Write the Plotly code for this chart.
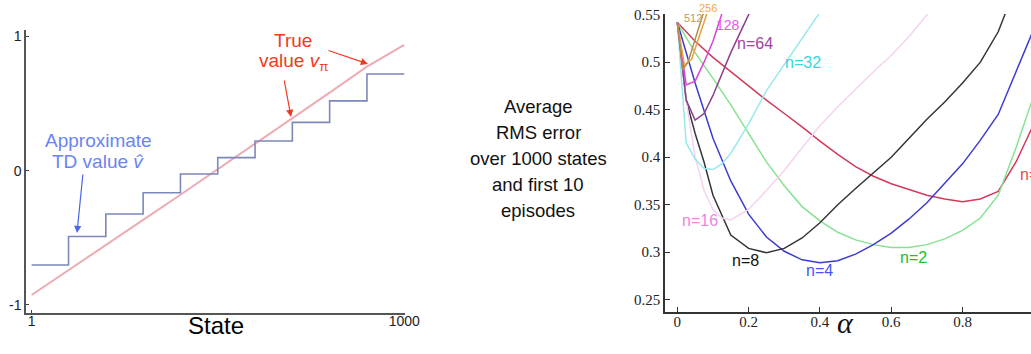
"""State aggregation on the 1000-state random walk, and n-step TD error vs alpha."""

import plotly.graph_objects as go

W, H = 1031, 354

# ---- left panel data ----
states = [1, 100, 200, 300, 400, 500, 600, 700, 800, 900, 1000]
true_value = [-0.926, -0.742, -0.559, -0.367, -0.179, 0.010, 0.199, 0.388, 0.581, 0.775, 0.937]
group_starts = [1, 100, 200, 300, 400, 500, 600, 700, 800, 900, 1000]
td_levels = [-0.703, -0.49, -0.323, -0.164, -0.025, 0.097, 0.221, 0.36, 0.52, 0.72, 0.72]

# ---- right panel data (average RMS error vs alpha, per n) ----
alpha_1 = [0, 0.05, 0.1, 0.15, 0.2, 0.25, 0.3, 0.35, 0.4, 0.45, 0.5, 0.55, 0.6, 0.65, 0.7, 0.75, 0.8, 0.85, 0.9, 0.95, 1.0]
err_1 = [0.542, 0.522, 0.505, 0.49, 0.475, 0.46, 0.446, 0.432, 0.417, 0.403, 0.39, 0.38, 0.372, 0.366, 0.36, 0.356, 0.353, 0.356, 0.364, 0.395, 0.435]
alpha_2 = alpha_1
err_2 = [0.542, 0.51, 0.483, 0.455, 0.425, 0.395, 0.37, 0.348, 0.333, 0.321, 0.313, 0.308, 0.305, 0.305, 0.308, 0.314, 0.323, 0.336, 0.36, 0.41, 0.465]
alpha_4 = alpha_1
err_4 = [0.542, 0.478, 0.42, 0.375, 0.34, 0.316, 0.301, 0.292, 0.289, 0.291, 0.298, 0.308, 0.32, 0.335, 0.352, 0.372, 0.393, 0.418, 0.445, 0.49, 0.535]
alpha_8 = [0, 0.025, 0.05, 0.075, 0.1, 0.15, 0.2, 0.25, 0.3, 0.35, 0.4, 0.45, 0.5, 0.55, 0.6, 0.65, 0.7, 0.75, 0.8, 0.85, 0.9, 0.95]
err_8 = [0.542, 0.46, 0.425, 0.395, 0.36, 0.318, 0.304, 0.2995, 0.304, 0.315, 0.331, 0.35, 0.367, 0.384, 0.40, 0.42, 0.44, 0.458, 0.478, 0.50, 0.532, 0.58]
alpha_16 = [0, 0.025, 0.05, 0.075, 0.1, 0.125, 0.15, 0.2, 0.25, 0.3, 0.35, 0.4, 0.45, 0.5, 0.55, 0.6, 0.65, 0.7, 0.75]
err_16 = [0.542, 0.46, 0.40, 0.365, 0.345, 0.336, 0.334, 0.345, 0.365, 0.386, 0.41, 0.433, 0.453, 0.472, 0.49, 0.507, 0.527, 0.55, 0.575]
alpha_32 = [0, 0.025, 0.05, 0.075, 0.1, 0.125, 0.15, 0.2, 0.25, 0.3, 0.35, 0.4, 0.45]
err_32 = [0.542, 0.415, 0.398, 0.388, 0.387, 0.393, 0.404, 0.435, 0.47, 0.497, 0.525, 0.552, 0.58]
alpha_64 = [0, 0.025, 0.05, 0.075, 0.1, 0.125, 0.15, 0.175, 0.2, 0.225]
err_64 = [0.542, 0.46, 0.439, 0.446, 0.465, 0.488, 0.51, 0.53, 0.551, 0.57]
alpha_128 = [0, 0.025, 0.05, 0.075, 0.1, 0.125, 0.15]
err_128 = [0.542, 0.476, 0.48, 0.50, 0.522, 0.552, 0.58]
alpha_256 = [0, 0.02, 0.04, 0.06, 0.08, 0.1]
err_256 = [0.542, 0.497, 0.503, 0.525, 0.548, 0.57]
alpha_512 = [0, 0.015, 0.03, 0.05, 0.07, 0.09]
err_512 = [0.542, 0.492, 0.50, 0.525, 0.548, 0.57]

n_labels = ["n=1", "n=2", "n=4", "n=8", "n=16", "n=32", "n=64", "128", "256", "512"]
curve_colors = ["#D23A5C", "#86E290", "#3C3CD2", "#353535", "#F5D2F0",
                "#96E8EE", "#8E3E8E", "#D844D8", "#E8A040", "#B48A50"]
label_colors = ["#F04848", "#22C022", "#4455F0", "#111111", "#E888E0",
                "#30D8E0", "#A044A0", "#F050F0", "#F5A848", "#C09860"]

SANS = "Liberation Sans, Arial, sans-serif"
SERIF = "Liberation Serif, Times New Roman, serif"


def px_x(px):
    return px / W


def px_y(py):
    return 1 - py / H


fig = go.Figure()

# left panel
fig.add_trace(go.Scatter(x=states, y=true_value, mode="lines",
                         line=dict(color="#ECACB4", width=2.0), xaxis="x", yaxis="y",
                         showlegend=False, hoverinfo="skip"))
fig.add_trace(go.Scatter(x=group_starts, y=td_levels, mode="lines", line_shape="hv",
                         line=dict(color="#7C88B8", width=1.6), xaxis="x", yaxis="y",
                         showlegend=False, hoverinfo="skip"))

# right panel
alphas = [alpha_1, alpha_2, alpha_4, alpha_8, alpha_16, alpha_32, alpha_64, alpha_128, alpha_256, alpha_512]
errors = [err_1, err_2, err_4, err_8, err_16, err_32, err_64, err_128, err_256, err_512]
for a, e, c in zip(alphas, errors, curve_colors):
    fig.add_trace(go.Scatter(x=a, y=e, mode="lines", line=dict(color=c, width=1.5),
                             xaxis="x2", yaxis="y2", showlegend=False, hoverinfo="skip"))

common = dict(automargin=False, showgrid=False, zeroline=False, showline=True)
fig.update_layout(
    width=W, height=H,
    margin=dict(l=0, r=0, t=0, b=0, autoexpand=False),
    paper_bgcolor="white", plot_bgcolor="white",
    xaxis=dict(domain=[px_x(26), px_x(405)], range=[-14, 1002],
               tickvals=[1, 1000], ticktext=["1", "1000"], ticks="inside", ticklen=3,
               linecolor="#555", linewidth=1.5, ticklabelstandoff=-5,
               tickfont=dict(family=SANS, size=14, color="#222"), **common),
    yaxis=dict(domain=[px_y(312.7), px_y(30)], range=[-1.058, 1.048],
               tickvals=[-1, 0, 1], ticktext=["-1", "0", "1"], ticks="inside", ticklen=3,
               linecolor="#555", linewidth=1.5,
               tickfont=dict(family=SANS, size=14, color="#222"), **common),
    xaxis2=dict(domain=[px_x(665), 1.0], range=[-0.0345, 0.992], anchor="y2",
                tickvals=[0, 0.2, 0.4, 0.6, 0.8], ticktext=["0", "0.2", "0.4", "0.6", "0.8"],
                ticks="inside", ticklen=5, tickcolor="#333", ticklabelstandoff=-4,
                linecolor="#333", linewidth=1.5,
                tickfont=dict(family=SERIF, size=15, color="#222"), **common),
    yaxis2=dict(domain=[px_y(311.7), px_y(14)], range=[0.2374, 0.5507], anchor="x2",
                tickvals=[0.25, 0.3, 0.35, 0.4, 0.45, 0.5, 0.55],
                ticktext=["0.25", "0.3", "0.35", "0.4", "0.45", "0.5", "0.55"],
                ticks="inside", ticklen=5, tickcolor="#333",
                linecolor="#333", linewidth=1.5,
                tickfont=dict(family=SERIF, size=15, color="#222"), **common),
)

ann = []
# left panel texts
ann.append(dict(x=px_x(216), y=px_y(325), text="State", font=dict(family=SANS, size=24, color="#000")))
ann.append(dict(x=px_x(293), y=px_y(41), text="True", font=dict(family=SANS, size=19, color="#F03A20")))
ann.append(dict(x=px_x(293), y=px_y(62), text="value <i>v</i><sub>π</sub>",
                font=dict(family=SANS, size=19, color="#F03A20")))
ann.append(dict(x=px_x(98), y=px_y(140), text="Approximate", font=dict(family=SANS, size=19, color="#6A84F2")))
ann.append(dict(x=px_x(98), y=px_y(161), text="TD value <i>v\u0302</i>",
                font=dict(family=SANS, size=19, color="#6A84F2")))
# arrows (tail -> head, in pixels)
for (x0, y0, x1, y1, col) in [(327, 50, 368, 64, "#F03A20"), (284, 79, 291, 117, "#F03A20"),
                               (83, 173, 77, 233, "#4A66F0")]:
    ann.append(dict(x=px_x(x1), y=px_y(y1), ax=x0 - x1, ay=y0 - y1, axref="pixel", ayref="pixel",
                    showarrow=True, arrowhead=2, arrowsize=1.2, arrowwidth=1.2, arrowcolor=col, text=""))

# middle y-label
for i, line in enumerate(["Average", "RMS error", "over 1000 states", "and first 10", "episodes"]):
    ann.append(dict(x=px_x(538), y=px_y(106 + 26 * i), text=line,
                    font=dict(family=SANS, size=18.5, color="#111")))

# right panel texts
ann.append(dict(x=px_x(845), y=px_y(322), text="<i>α</i>", font=dict(family=SERIF, size=30, color="#111")))
label_pos = [(1018, 175, "left"), (913, 257), (819, 270), (745, 260), (700, 220), (803, 62),
             (755, 43), (728, 25), (708, 8), (693, 18)]
label_sizes = [16, 16, 16, 16, 16, 16, 16, 14, 11, 11]
for lab, pos, col, fs in zip(n_labels, label_pos, label_colors, label_sizes):
    d = dict(x=px_x(pos[0]), y=px_y(pos[1]), text=lab, font=dict(family=SANS, size=fs, color=col))
    if len(pos) == 3:
        d["xanchor"] = "left"
    ann.append(d)

for a in ann:
    a.setdefault("xref", "paper")
    a.setdefault("yref", "paper")
    a.setdefault("showarrow", False)
    a.setdefault("xanchor", "center")
    a.setdefault("yanchor", "middle")
fig.update_layout(annotations=ann)

fig.write_html("out.html", config={"displayModeBar": False},
               post_script="document.body.style.margin = '0';")
